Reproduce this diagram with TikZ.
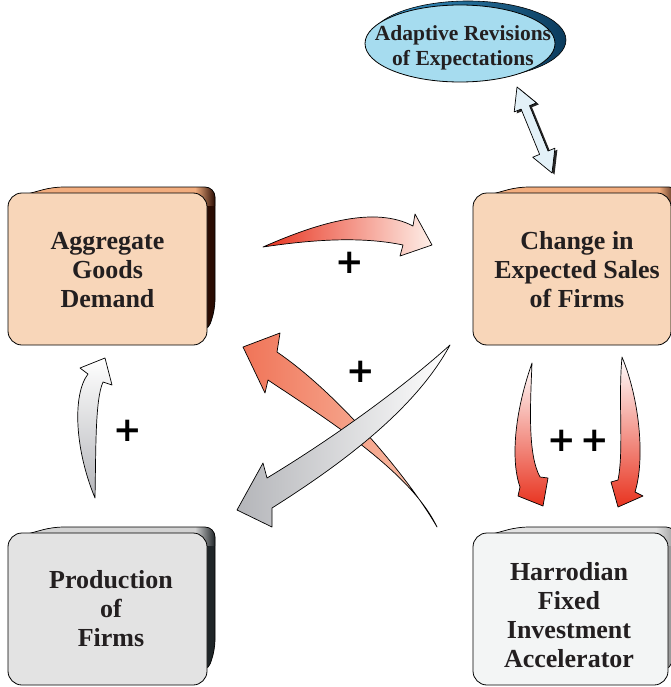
\documentclass[tikz,border=0pt]{standalone}
\usepackage{fontspec}
\setmainfont{Liberation Serif}
\newfontfamily\plusfont{DejaVu Sans}
\usetikzlibrary{shapes.geometric}
\definecolor{peach}{HTML}{F8D6B9}
\definecolor{orangetop}{HTML}{F2AD7E}
\definecolor{brownside}{HTML}{2A0C03}
\definecolor{prodfront}{HTML}{E3E3E3}
\definecolor{prodtop}{HTML}{D2D2D2}
\definecolor{prodside}{HTML}{1F2528}
\definecolor{harrfront}{HTML}{F3F5F5}
\definecolor{harrtop}{HTML}{E2E2E2}
\definecolor{harrside}{HTML}{9A9A9A}
\definecolor{ellfront}{HTML}{A6DCEF}
\definecolor{ellback}{HTML}{3A9CD0}
\definecolor{ellbackdark}{HTML}{0B3A5C}
\definecolor{txt}{HTML}{231F20}
\definecolor{arred}{HTML}{E8331F}
\definecolor{arrlight}{HTML}{FEEFE8}
\definecolor{arrorange}{HTML}{F07458}
\definecolor{arrorangelight}{HTML}{F9C5AE}
\definecolor{arrgray}{HTML}{B4B5B9}
\definecolor{dblblue}{HTML}{E3F1F8}
\newcommand\bkface[7]{%
  \fill[#6,rounded corners=10pt] (#1+12,#2+3) -- (#1+45,#2-6) -- (#3+8,#2-6) -- (#3+8,#4-35) -- (#3,#4-12) -- cycle;
  \begin{scope}
    \clip[rounded corners=10pt] (#1+12,#2+3) -- (#1+45,#2-6) -- (#3+8,#2-6) -- (#3+8,#4-35) -- (#3,#4-12) -- cycle;
    \fill[#5] (#1,#2-20) rectangle (#3-12,#2+3);
    \shade[left color=#5, right color=#6] (#3-12,#2-20) rectangle (#3+8,#2+12);
  \end{scope}
  \draw[line width=.7pt,rounded corners=10pt] (#1+12,#2+3) -- (#1+45,#2-6) -- (#3+8,#2-6) -- (#3+8,#4-35) -- (#3,#4-12) -- cycle;
}
\tikzset{
  face/.style={draw=black, line width=.8pt, rounded corners=14pt, inner sep=0pt, minimum height=152pt},
  btext/.style={align=center, text=txt, inner sep=0pt, font=\bfseries\fontsize{26}{29}\selectfont},
  etext/.style={align=center, text=txt, inner sep=0pt, font=\bfseries\fontsize{21.5}{24.5}\selectfont},
  plussign/.style={text=black, inner sep=0pt, font=\plusfont\bfseries\fontsize{34}{34}\selectfont},
  fatarrow/.style={draw=black, line width=.7pt, line join=round}
}
\begin{document}
\begin{tikzpicture}[x=1pt,y=-1pt]
\useasboundingbox (0,0) rectangle (670,687);

% ---------- boxes ----------
\bkface{8}{193}{207}{345}{orangetop}{brownside}{}
\node[face, fill=peach, minimum width=199pt] (agg) at (107.5,269) {};
\node[btext] (aggtxt) at (107.5,270) {Aggregate\\Goods\\Demand};

\bkface{473}{193}{671}{345}{orangetop}{brownside}{}
\node[face, fill=peach, minimum width=198pt] (sales) at (572,269) {};
\node[btext] (salestxt) at (577,270) {Change in\\Expected Sales\\of Firms};

\bkface{8}{533}{207}{685}{prodtop}{prodside}{}
\node[face, fill=prodfront, minimum width=199pt] (prod) at (107.5,609) {};
\node[btext] (prodtxt) at (111,609) {Production\\of\\Firms};

\bkface{473}{533}{668}{685}{harrtop}{harrside}{}
\node[face, fill=harrfront, minimum width=195pt] (harr) at (570.5,609) {};
\node[btext] (harrtxt) at (569,615) {Harrodian\\Fixed\\Investment\\Accelerator};

% ---------- ellipse ----------
\shade[left color=ellback, right color=ellbackdark, draw=black, line width=.6pt] (468,40) ellipse [x radius=98pt, y radius=39pt];
\node[ellipse, draw=black, line width=.8pt, fill=ellfront, minimum width=190pt, minimum height=77pt, inner sep=0pt] (adapt) at (460,43.5) {};
\node[etext] (adapttxt) at (463,48) {Adaptive Revisions\\of Expectations};

% ---------- double arrow ----------
\fill[black!85] ([shift={(2.5,1.5)}]517,87) -- ([shift={(2.5,1.5)}]536.4,102.9) -- ([shift={(2.5,1.5)}]529.5,105.7) -- ([shift={(2.5,1.5)}]548,151) -- ([shift={(2.5,1.5)}]554.9,148.2) -- ([shift={(2.5,1.5)}]552,173) -- ([shift={(2.5,1.5)}]532.7,157.2) -- ([shift={(2.5,1.5)}]539.6,154.4) -- ([shift={(2.5,1.5)}]521.1,109.1) -- ([shift={(2.5,1.5)}]514.2,111.9) -- cycle;
\draw[fatarrow, fill=dblblue] (517,87) -- (536.4,102.9) -- (529.5,105.7) -- (548,151) -- (554.9,148.2) -- (552,173) -- (532.7,157.2) -- (539.6,154.4) -- (521.1,109.1) -- (514.2,111.9) -- cycle;

% ---------- top red arrow ----------
\draw[fatarrow, left color=arred, right color=arrlight]
  (263,247) .. controls (320,222) and (375,206) .. (413,226) -- (415,214) -- (432,245) -- (400,256) -- (403,245)
  .. controls (360,236) and (310,240) .. (263,247) -- cycle;
\node[plussign] (p1) at (350,263) {+};

% ---------- gray up arrow ----------
\draw[fatarrow, top color=white, bottom color=arrgray]
  (95,498) .. controls (75,450) and (72,395) .. (88,374) -- (80,368) -- (105,358) -- (112,385) -- (103,382)
  .. controls (95,400) and (96,450) .. (95,498) -- cycle;
\node[plussign] (p2) at (128,431) {+};

% ---------- orange cross arrow ----------
\draw[fatarrow, left color=arrorange, right color=arrorangelight]
  (437,527) .. controls (410,480) and (340,395) .. (277,352) -- (280,333) -- (243,347) -- (265,393) -- (268,380)
  .. controls (320,415) and (410,470) .. (437,527) -- cycle;

% ---------- gray cross arrow ----------
\draw[fatarrow, left color=arrgray, right color=white]
  (450,345) .. controls (415,410) and (340,465) .. (272,508) -- (272,527) -- (237,510) -- (263,463) -- (267,478)
  .. controls (330,440) and (400,390) .. (450,345) -- cycle;
\node[plussign] (p3) at (361,372) {+};

% ---------- right red arrows ----------
\draw[fatarrow, top color=white, bottom color=arred]
  (532,363) .. controls (512,420) and (512,465) .. (520,487) -- (518,496) -- (543,506) -- (548,478) -- (540,477)
  .. controls (528,455) and (530,410) .. (532,363) -- cycle;
\draw[fatarrow, top color=white, bottom color=arred]
  (622,357) .. controls (640,400) and (645,460) .. (635,492) -- (643,496) -- (618,507) -- (611,482) -- (618,480)
  .. controls (624,450) and (618,400) .. (622,357) -- cycle;
\node[plussign] (p4) at (562,441) {+};
\node[plussign] (p5) at (595,441) {+};
\end{tikzpicture}
\end{document}
